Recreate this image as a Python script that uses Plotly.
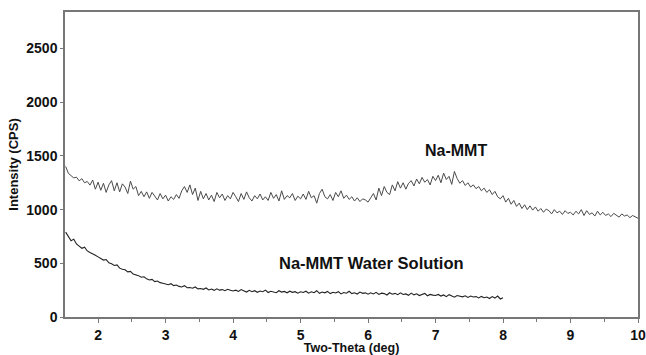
import numpy as np
import plotly.graph_objects as go

# Two-theta sampling grids (deg)
na_start, na_step, na_n = 1.52, 0.04, 213
ws_start, ws_step, ws_n = 1.52, 0.04, 163
two_theta_na = np.round(na_start + na_step * np.arange(na_n), 2)
two_theta_ws = np.round(ws_start + ws_step * np.arange(ws_n), 2)

# Na-MMT intensity (CPS)
na_mmt = [
    1402, 1338, 1316, 1295, 1302, 1268, 1288, 1250, 1262, 1228, 1275, 1190, 1255,
    1180, 1245, 1160, 1230, 1270, 1175, 1250, 1165, 1240, 1210, 1150, 1265, 1190, 1215, 1130, 1170, 1120, 1165, 1105, 1160, 1125, 1090, 1150, 1100, 1135,
    1080, 1120, 1095, 1140, 1105, 1175, 1215, 1160, 1230, 1140, 1200, 1085, 1170, 1100, 1150, 1090, 1135, 1075, 1160, 1110, 1145, 1085, 1130, 1100, 1160,
    1120, 1075, 1150, 1095, 1165, 1110, 1080, 1130, 1100, 1145, 1090, 1120, 1085, 1160, 1105, 1140, 1080, 1175, 1095, 1130, 1110, 1150, 1085, 1125, 1100,
    1145, 1095, 1170, 1110, 1130, 1060, 1150, 1190, 1120, 1100, 1140, 1085, 1160, 1120, 1175, 1105, 1135, 1095, 1120, 1080, 1110, 1075, 1100, 1090, 1070,
    1110, 1150, 1090, 1200, 1130, 1215, 1160, 1140, 1230, 1175, 1260, 1200, 1250, 1190, 1245, 1270, 1220, 1285, 1240, 1300, 1255, 1280, 1230, 1310, 1270,
    1320, 1250, 1340, 1280, 1310, 1235, 1355, 1290, 1245, 1270, 1225, 1250, 1210, 1230, 1195, 1215, 1175, 1200, 1160, 1185, 1140, 1170, 1120, 1100, 1130,
    1070, 1105, 1050, 1085, 1030, 1060, 1010, 1045, 1000, 1035, 995, 1025, 985, 1010, 975, 1005, 990, 960, 1000, 970, 985, 955, 990, 965, 975,
    950, 985, 960, 1000, 945, 990, 955, 970, 940, 985, 950, 975, 945, 960, 935, 965, 950, 930, 960, 940, 950, 925, 945, 935, 920,
]

# Na-MMT water solution intensity (CPS)
na_mmt_water = [
    790, 745, 710, 725, 680, 660, 640, 650, 615, 600, 590, 575, 560,
    545, 530, 535, 505, 495, 480, 485, 455, 445, 440, 420, 425, 400, 395, 385, 370, 375, 355, 345, 350, 330, 335, 320, 315, 310,
    300, 310, 292, 298, 285, 280, 292, 272, 275, 268, 280, 262, 265, 258, 270, 252, 260, 248, 262, 250, 255, 245, 258, 250, 242,
    250, 238, 255, 240, 232, 248, 236, 245, 230, 242, 235, 250, 228, 240, 233, 226, 245, 232, 238, 225, 240, 230, 236, 222, 235,
    228, 240, 222, 235, 226, 245, 220, 232, 225, 238, 218, 230, 224, 236, 215, 228, 222, 240, 218, 226, 214, 232, 220, 225, 212,
    225, 215, 230, 210, 222, 218, 205, 226, 212, 220, 208, 225, 210, 215, 202, 222, 206, 216, 200, 212, 220, 198, 210, 204, 200,
    210, 195, 205, 190, 208, 196, 185, 200, 192, 188, 198, 182, 195, 186, 190, 178, 192, 180, 186, 172, 190, 176, 195, 168, 180,
]

x_ticks = [2, 3, 4, 5, 6, 7, 8, 9, 10]
y_ticks = [0, 500, 1000, 1500, 2000, 2500]

FONT = "Arial, 'Liberation Sans', Helvetica, sans-serif"

fig = go.Figure()
fig.add_trace(go.Scatter(x=two_theta_na, y=na_mmt, mode="lines",
                         line=dict(color="#4a4a4a", width=1), showlegend=False))
fig.add_trace(go.Scatter(x=two_theta_ws, y=na_mmt_water, mode="lines",
                         line=dict(color="#222222", width=1.1), showlegend=False))

fig.add_annotation(x=7.30, y=1549, text="<b>Na-MMT</b>", showarrow=False,
                   font=dict(family=FONT, size=16, color="#111"))
fig.add_annotation(x=6.05, y=505, text="<b>Na-MMT Water Solution</b>", showarrow=False,
                   font=dict(family=FONT, size=16.5, color="#111"))

fig.update_layout(
    width=646, height=355,
    margin=dict(l=65, r=8, t=12, b=38),
    paper_bgcolor="white", plot_bgcolor="white",
    font=dict(family=FONT, color="#111"),
)
fig.update_xaxes(
    range=[1.51, 10.0], tickvals=x_ticks, ticktext=[f"<b>{v}</b>" for v in x_ticks],
    ticks="outside", ticklen=4, tickcolor="#777", tickwidth=1,
    minor=dict(dtick=0.5, tick0=1.5, ticks="outside", ticklen=3, tickcolor="#777"),
    showline=True, linecolor="#777", linewidth=1.5, mirror=True,
    showgrid=False, zeroline=False,
    tickfont=dict(family=FONT, size=14, color="#111"),
    title=dict(text="<b>Two-Theta (deg)</b>", font=dict(family=FONT, size=12.5, color="#111"), standoff=1),
    automargin=False,
)
fig.update_yaxes(
    range=[0, 2840], tickvals=y_ticks, ticktext=[f"<b>{v}</b>" for v in y_ticks],
    ticks="outside", ticklen=3, tickcolor="#777", tickwidth=1,
    showline=True, linecolor="#777", linewidth=1.5, mirror=True,
    showgrid=False, zeroline=False,
    tickfont=dict(family=FONT, size=14, color="#111"),
    title=dict(text="<b>Intensity (CPS)</b>", font=dict(family=FONT, size=13, color="#111"), standoff=5),
    automargin=False,
)

fig.write_html("out.html")
